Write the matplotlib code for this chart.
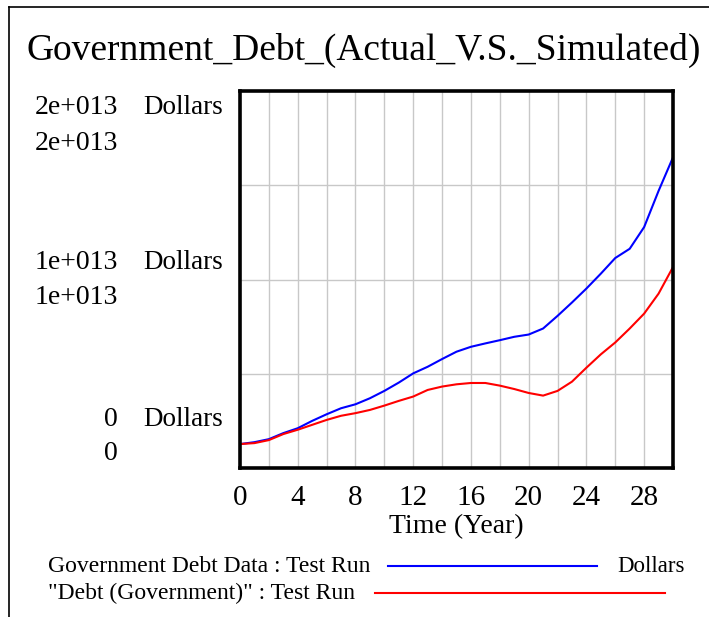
import matplotlib
matplotlib.use("Agg")
import matplotlib.pyplot as plt
from matplotlib.lines import Line2D

# %%
years = list(range(0, 31))
# Government Debt Data : Test Run (1e12 Dollars)
debt_data = [1.27, 1.37, 1.53, 1.85, 2.11, 2.50, 2.85, 3.17, 3.38, 3.70,
             4.09, 4.53, 5.02, 5.37, 5.78, 6.17, 6.43, 6.61, 6.78, 6.96,
             7.08, 7.40, 8.07, 8.78, 9.52, 10.31, 11.14, 11.63, 12.78, 14.70,
             16.48]
# "Debt (Government)" : Test Run (1e12 Dollars)
debt_sim = [1.27, 1.32, 1.48, 1.80, 2.03, 2.29, 2.55, 2.77, 2.91, 3.08,
            3.31, 3.56, 3.79, 4.14, 4.32, 4.44, 4.51, 4.51, 4.37, 4.19,
            3.98, 3.84, 4.09, 4.58, 5.32, 6.03, 6.66, 7.40, 8.19, 9.25,
            10.66]
x_labels = [0, 4, 8, 12, 16, 20, 24, 28]
y_labels = ["2e+013", "1e+013", "0"]

# %%
W, H = 709, 617
plt.rcParams['font.family'] = ['Liberation Serif', 'DejaVu Serif']
fig = plt.figure(figsize=(W / 100, H / 100), dpi=100)

def fx(px):
    return px / W

def fy(py):
    return 1 - py / H

# outer frame (right / bottom cut off)
fig.add_artist(Line2D([fx(9), fx(9)], [fy(7), fy(617)], color='black', lw=1.2))
fig.add_artist(Line2D([fx(9), fx(709)], [fy(7), fy(7)], color='black', lw=1.2))

ax = fig.add_axes([fx(240), fy(468), fx(673) - fx(240), fy(91) - fy(468)])
ax.plot(years, [v * 1e12 for v in debt_data], color='#0000ff', lw=1.5)
ax.plot(years, [v * 1e12 for v in debt_sim], color='#ff0000', lw=1.5)
ax.set_xlim(0, 30)
ax.set_ylim(0, 2e13)

ax.set_xticks(range(0, 31, 2))
ax.set_xticklabels([str(t) if t in x_labels else '' for t in range(0, 31, 2)], fontsize=21)
ax.set_yticks([5e12, 1e13, 1.5e13])
ax.set_yticklabels([])
ax.tick_params(length=0, pad=12)
ax.grid(True, color='#c8c8c8', lw=1)
for s in ax.spines.values():
    s.set_linewidth(2.6)

fig.text(fx(456), fy(527), "Time (Year)", fontsize=20, ha='center', va='center')
fig.text(fx(364), fy(50), "Government_Debt_(Actual_V.S._Simulated)", fontsize=27,
         ha='center', va='center')

# y scale labels
for lab, ya, yb in zip(y_labels, [108, 263, 419], [143, 297, 454]):
    fig.text(fx(118), fy(ya), lab, fontsize=20, ha='right', va='center')
    fig.text(fx(143), fy(ya), "Dollars", fontsize=19.5, ha='left', va='center')
    fig.text(fx(118), fy(yb), lab, fontsize=20, ha='right', va='center')

# legend
fig.text(fx(48), fy(566), "Government Debt Data : Test Run", fontsize=17, ha='left', va='center')
fig.add_artist(Line2D([fx(388), fx(597)], [fy(566), fy(566)], color='#0000ff', lw=1.5))
fig.text(fx(617), fy(566), "Dollars", fontsize=16.5, ha='left', va='center')
fig.text(fx(48), fy(593), "\"Debt (Government)\" : Test Run", fontsize=17, ha='left', va='center')
fig.add_artist(Line2D([fx(375), fx(665)], [fy(593), fy(593)], color='#ff0000', lw=1.5))

fig.savefig("out.png", dpi=100)
